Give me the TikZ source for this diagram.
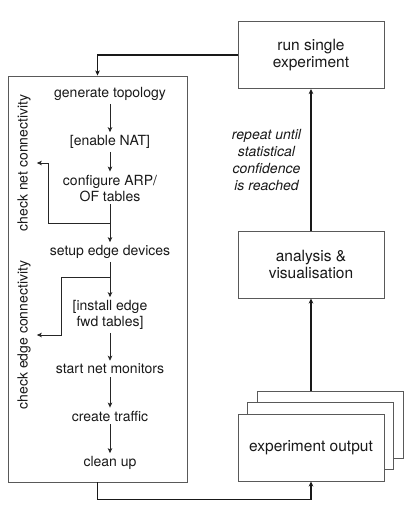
\documentclass[tikz,border=0pt]{standalone}
\usepackage{fontspec}
\setmainfont{TeX Gyre Heros}
\usetikzlibrary{arrows.meta,calc}

\begin{document}
\begin{tikzpicture}[x=1pt, y=-1pt,
        arr/.style={draw=black!85, line width=0.8pt, -{Stealth[length=5pt, width=4.5pt, inset=1.2pt]}},
        thickarr/.style={arr, draw=black!90, line width=1.3pt},
        stepnode/.style={font=\fontsize{14}{16}\selectfont, text=black!90, align=center, inner sep=3pt},
        sidenode/.style={font=\fontsize{14}{16}\selectfont, text=black!90, rotate=90, inner sep=6pt},
        bigbox/.style={draw=black!65, line width=0.9pt, fill=white, minimum width=146pt, minimum height=67pt,
            align=center, text=black!90, font=\fontsize{15.5}{17.5}\selectfont}]

        \useasboundingbox (0,0) rectangle (416,515);

        % big rectangle with the steps
        \node[draw=black!65, line width=0.9pt, minimum width=179pt, minimum height=406pt] (proc) at (97.5,279) {};

        % steps
        \node[stepnode] (topo) at (110,94) {generate topology};
        \node[stepnode] (nat) at (110,142) {[enable NAT]};
        \node[stepnode] (arp) at (110,188) {configure ARP/\\OF tables};
        \node[stepnode] (edge) at (110,252) {setup edge devices};
        \node[stepnode] (fwd) at (110,315) {[install edge\\fwd tables]};
        \node[stepnode] (mon) at (110,369) {start net monitors};
        \node[stepnode] (traf) at (110,416) {create traffic};
        \node[stepnode] (clean) at (110,463) {clean up};

        % arrows between steps
        \draw[arr] (topo) -- (nat);
        \draw[arr] (nat) -- (arp);
        \draw[arr] (arp) -- (edge);
        \draw[arr] (edge) -- (fwd);
        \draw[arr] (fwd) -- (mon);
        \draw[arr] (mon) -- (traf);
        \draw[arr] (traf) -- (clean);

        % side labels
        \node[sidenode] (netchk) at (24,163) {check net connectivity};
        \node[sidenode] (edgechk) at (24,335) {check edge connectivity};

        % loops to the side labels
        \coordinate (j1) at ($(arp.south)!0.5!(edge.north)$);
        \coordinate (j2) at ($(edge.south)!0.45!(fwd.north)$);
        \draw[arr] (j1) -| ([xshift=12pt]netchk.south) -- (netchk.south);
        \draw[arr] (j2) -| ([xshift=25pt]edgechk.south) -- (edgechk.south);

        % right column
        \node[bigbox] (run) at (311,55) {run single\\experiment};
        \node[bigbox] (ana) at (311,264.5) {analysis \&\\visualisation};

        % stacked outputs
        \node[bigbox] (out3) at (330,424.5) {};
        \node[bigbox] (out2) at (320.5,436) {};
        \node[bigbox] (out1) at (311,447.5) {experiment output};

        % connectors
        \draw[thickarr] (run.west) -| (proc.north);
        \draw[thickarr] (proc.south) -- ++(0,17) -| (out1.south);
        \draw[thickarr] (out1.north |- out3.north) -- (ana.south);
        \draw[thickarr] (ana) -- node[left=6pt, text=black!90, align=center, font=\itshape\fontsize{14}{17}\selectfont]
            {repeat until\\statistical\\confidence\\is reached} (run);

    \end{tikzpicture}
\end{document}
